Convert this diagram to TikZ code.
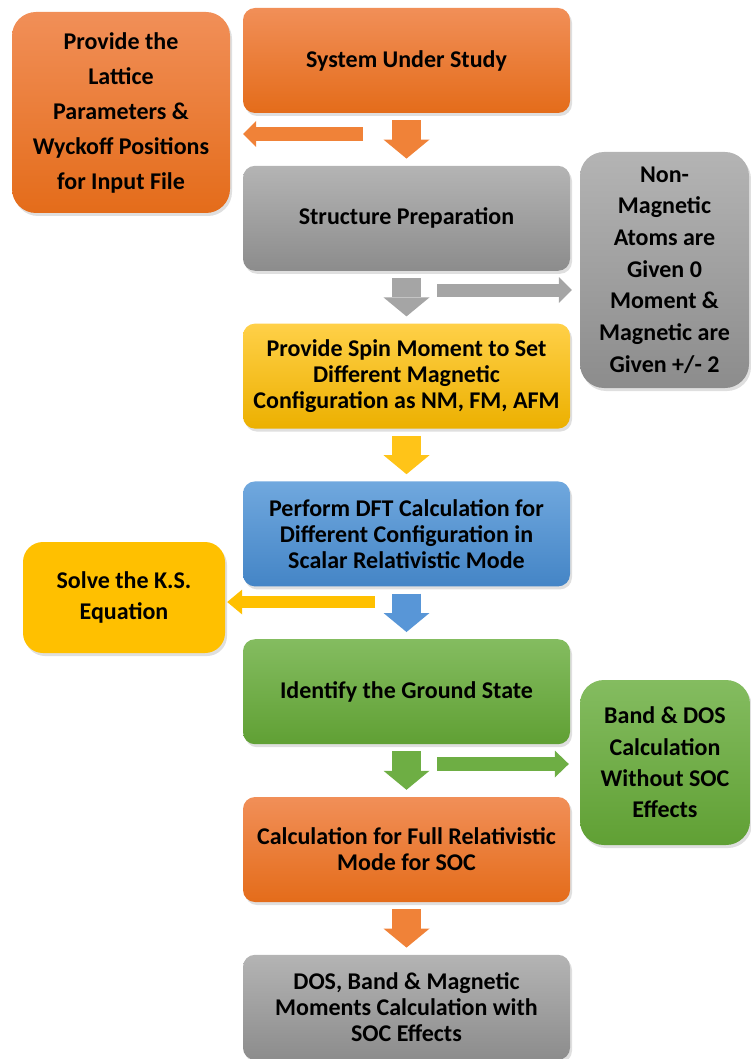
\documentclass[tikz,border=0pt]{standalone}
\usepackage{fontspec}
\setmainfont{Carlito}
\usetikzlibrary{arrows.meta, shadows, positioning}

\definecolor{orangetop}{RGB}{241,143,88}
\definecolor{orangebot}{RGB}{228,108,26}
\definecolor{graytop}{RGB}{180,180,180}
\definecolor{graybot}{RGB}{140,140,140}
\definecolor{yellowtop}{RGB}{255,208,72}
\definecolor{yellowbot}{RGB}{236,176,0}
\definecolor{bluetop}{RGB}{112,168,222}
\definecolor{bluebot}{RGB}{68,133,198}
\definecolor{greentop}{RGB}{132,188,96}
\definecolor{greenbot}{RGB}{96,160,52}
\definecolor{ksyellow}{RGB}{255,192,0}
\definecolor{orangearr}{RGB}{240,130,56}
\definecolor{grayarr}{RGB}{165,165,165}
\definecolor{yellowarr}{RGB}{255,196,24}
\definecolor{bluearr}{RGB}{88,150,215}
\definecolor{greenarr}{RGB}{110,174,68}

\begin{document}
\begin{tikzpicture}[x=1pt, y=-1pt, node distance = 52.4pt,
	mainbox/.style = {rectangle, rounded corners=12pt, minimum width=327pt, minimum height=105pt,
		align=center, font=\bfseries\fontsize{24}{26}\selectfont,
		drop shadow={opacity=0.25, shadow xshift=2pt, shadow yshift=-3pt}},
	sidebox/.style = {rectangle, rounded corners=24pt, align=center,
		drop shadow={opacity=0.25, shadow xshift=2pt, shadow yshift=-3pt}},
	orangefill/.style = {top color=orangetop, bottom color=orangebot},
	grayfill/.style = {top color=graytop, bottom color=graybot},
	yellowfill/.style = {top color=yellowtop, bottom color=yellowbot},
	bluefill/.style = {top color=bluetop, bottom color=bluebot},
	greenfill/.style = {top color=greentop, bottom color=greenbot},
	downarrow/.style = {line width=29pt, -{Triangle[width=46pt, length=19pt, line width=0pt]},
		shorten <=7pt, shorten >=7pt},
	sidearrow/.style = {line width=14pt, -{Triangle[width=26pt, length=13pt, line width=0pt]}}
]
	\useasboundingbox (0,0) rectangle (750,1059);

	% main column
	\node[mainbox, orangefill] (system) at (406.5,60.5) {System Under Study};
	\node[mainbox, grayfill, below = of system] (structure) {Structure Preparation};
	\node[mainbox, yellowfill, below = of structure] (spin) {Provide Spin Moment to Set\\Different Magnetic\\Configuration as NM, FM, AFM};
	\node[mainbox, bluefill, below = of spin] (dft) {Perform DFT Calculation for\\Different Configuration in\\Scalar Relativistic Mode};
	\node[mainbox, greenfill, below = of dft] (ground) {Identify the Ground State};
	\node[mainbox, orangefill, below = of ground] (soc) {Calculation for Full Relativistic\\Mode for SOC};
	\node[mainbox, grayfill, below = of soc] (result) {DOS, Band \& Magnetic\\Moments Calculation with\\SOC Effects};

	% side boxes
	\node[sidebox, orangefill, minimum width=218pt, minimum height=201pt, font=\bfseries\fontsize{24}{35}\selectfont] (lattice) at (121,112.5)
		{Provide the\\Lattice\\Parameters \&\\Wyckoff Positions\\for Input File};
	\node[sidebox, grayfill, minimum width=169pt, minimum height=236pt, font=\bfseries\fontsize{24}{31.7}\selectfont] (nonmag) at (664.5,270)
		{Non-\\Magnetic\\Atoms are\\Given 0\\Moment \&\\Magnetic are\\Given +/- 2};
	\node[sidebox, fill=ksyellow, rounded corners=20pt, minimum width=202pt, minimum height=111pt, font=\bfseries\fontsize{24}{31}\selectfont] (ks) at (124,597.5)
		{Solve the K.S.\\Equation};
	\node[sidebox, greenfill, minimum width=170pt, minimum height=165pt, font=\bfseries\fontsize{24}{31.3}\selectfont] (banddos) at (665,762.5)
		{Band \& DOS\\Calculation\\Without SOC\\Effects};

	% down arrows
	\draw[downarrow, color=orangearr] (system) -- (structure);
	\draw[downarrow, color=grayarr] (structure) -- (spin);
	\draw[downarrow, color=yellowarr] (spin) -- (dft);
	\draw[downarrow, color=bluearr] (dft) -- (ground);
	\draw[downarrow, color=greenarr] (ground) -- (soc);
	\draw[downarrow, color=orangearr] (soc) -- (result);

	% side arrows
	\coordinate (latfrom) at (363,134);
	\coordinate (nmfrom) at (437,290);
	\coordinate (ksfrom) at (375,602);
	\coordinate (bdfrom) at (437,764);
	\draw[sidearrow, color=orangearr, shorten >=13pt] (latfrom) -- (latfrom -| lattice.east);
	\draw[sidearrow, color=grayarr, line width=13pt, shorten >=8pt] (nmfrom) -- (nmfrom -| nonmag.west);
	\draw[sidearrow, color=ksyellow, line width=12pt, shorten >=2pt,
		-{Triangle[width=25pt, length=15pt, line width=0pt]}] (ksfrom) -- (ksfrom -| ks.east);
	\draw[sidearrow, color=greenarr, shorten >=11pt,
		-{Triangle[width=27pt, length=14pt, line width=0pt]}] (bdfrom) -- (bdfrom -| banddos.west);
\end{tikzpicture}
\end{document}
